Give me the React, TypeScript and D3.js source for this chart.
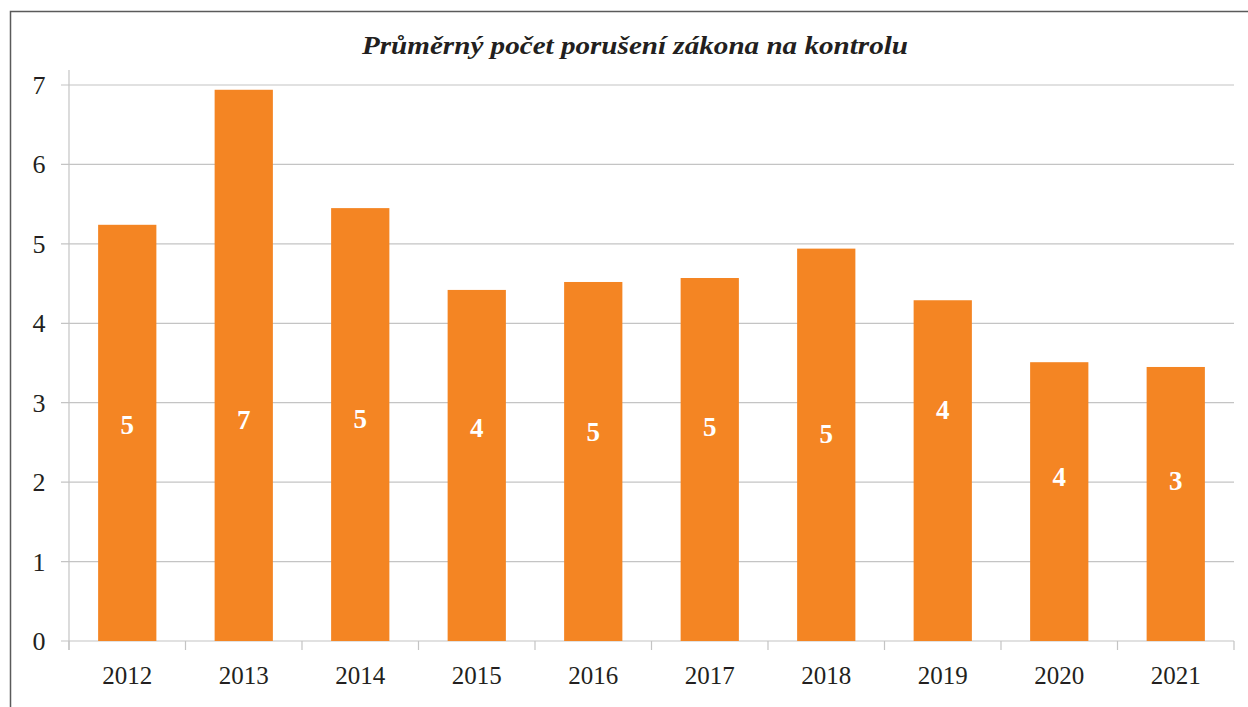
import React, { useEffect, useRef } from 'react'
import * as d3 from 'd3'

const years = ['2012', '2013', '2014', '2015', '2016', '2017', '2018', '2019', '2020', '2021']
const values = [5.24, 6.94, 5.45, 4.42, 4.52, 4.57, 4.94, 4.29, 3.51, 3.45]
const labels = ['5', '7', '5', '4', '5', '5', '5', '4', '4', '3']
// where the data label sits, in axis units
const labelAt = [2.72, 2.78, 2.8, 2.68, 2.63, 2.69, 2.61, 2.91, 2.07, 2.02]
const yTicks = [0, 1, 2, 3, 4, 5, 6, 7]
const title = 'Průměrný počet porušení zákona na kontrolu'

const W = 1248
const H = 707

const App = () => {
  const ref = useRef<SVGSVGElement>(null)

  useEffect(() => {
    const svg = d3.select(ref.current)
    svg.selectAll('*').remove()

    const left = 69
    const right = 1234
    const top = 85
    const bottom = 641
    const font = 'Liberation Serif'

    // frame
    svg
      .append('rect')
      .attr('x', 10.5)
      .attr('y', 11.5)
      .attr('width', W)
      .attr('height', H)
      .attr('fill', 'none')
      .attr('stroke', '#5a5a5a')
      .attr('stroke-width', 1.5)

    const x = d3.scaleBand().domain(years).range([left, right]).paddingInner(0.5).paddingOuter(0.25)
    const y = d3.scaleLinear().domain([0, 7]).range([bottom, top])

    // grid
    svg
      .selectAll('line.grid')
      .data(yTicks)
      .enter()
      .append('line')
      .attr('x1', left - 8)
      .attr('x2', right)
      .attr('y1', (d) => y(d))
      .attr('y2', (d) => y(d))
      .attr('stroke', '#c4c4c4')
      .attr('stroke-width', 1.2)

    // y axis line
    svg
      .append('line')
      .attr('x1', left)
      .attr('x2', left)
      .attr('y1', 70)
      .attr('y2', bottom + 9)
      .attr('stroke', '#c4c4c4')
      .attr('stroke-width', 1.2)

    // x ticks at category boundaries
    const step = x.step()
    svg
      .selectAll('line.xtick')
      .data(d3.range(years.length + 1))
      .enter()
      .append('line')
      .attr('x1', (i) => left + i * step)
      .attr('x2', (i) => left + i * step)
      .attr('y1', bottom)
      .attr('y2', bottom + 9)
      .attr('stroke', '#c4c4c4')
      .attr('stroke-width', 1.2)

    svg
      .selectAll('rect.bar')
      .data(values)
      .enter()
      .append('rect')
      .attr('x', (_, i) => x(years[i])!)
      .attr('width', x.bandwidth())
      .attr('y', (d) => y(d))
      .attr('height', (d) => bottom - y(d))
      .attr('fill', '#f48523')

    svg
      .selectAll('text.lbl')
      .data(labels)
      .enter()
      .append('text')
      .attr('x', (_, i) => x(years[i])! + x.bandwidth() / 2)
      .attr('y', (_, i) => y(labelAt[i]) + 9)
      .attr('text-anchor', 'middle')
      .attr('font-family', font)
      .attr('font-weight', 'bold')
      .attr('font-size', 27)
      .attr('fill', 'white')
      .text((d) => d)

    svg
      .selectAll('text.ytick')
      .data(yTicks)
      .enter()
      .append('text')
      .attr('x', 39)
      .attr('y', (d) => y(d) + 9)
      .attr('text-anchor', 'middle')
      .attr('font-family', font)
      .attr('font-size', 26)
      .attr('fill', '#231f20')
      .text((d) => d)

    svg
      .selectAll('text.xtick')
      .data(years)
      .enter()
      .append('text')
      .attr('x', (d) => x(d)! + x.bandwidth() / 2)
      .attr('y', 684)
      .attr('text-anchor', 'middle')
      .attr('font-family', font)
      .attr('font-size', 25)
      .attr('fill', '#231f20')
      .text((d) => d)

    svg
      .append('text')
      .attr('x', 635)
      .attr('y', 54)
      .attr('text-anchor', 'middle')
      .attr('font-family', font)
      .attr('font-weight', 'bold')
      .attr('font-style', 'italic')
      .attr('font-size', 26)
      .attr('textLength', 546)
      .attr('lengthAdjust', 'spacingAndGlyphs')
      .attr('fill', '#231f20')
      .text(title)
  }, [])

  return (
    <svg
      ref={ref}
      width={W}
      height={H}
      style={{ position: 'absolute', left: 0, top: 0, background: 'white' }}
    />
  )
}

export default App
